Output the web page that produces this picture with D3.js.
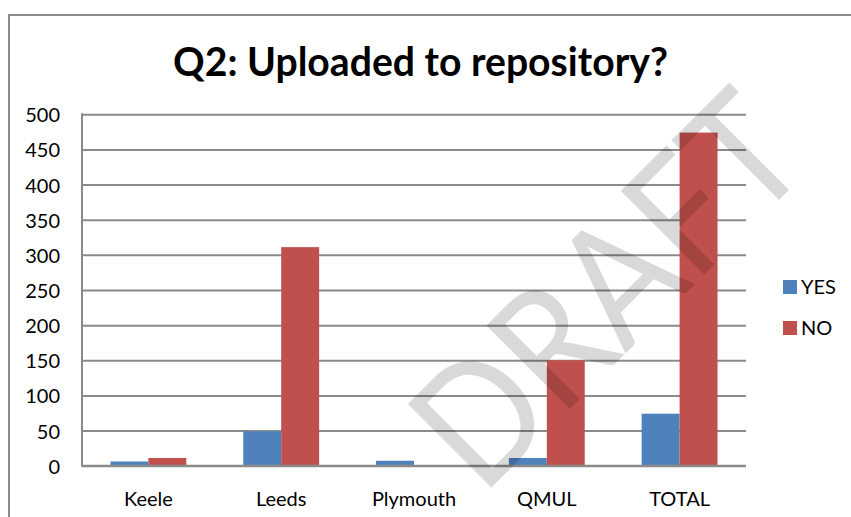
<!DOCTYPE html>
<html>
<head>
<meta charset="utf-8">
<script src="https://cdn.jsdelivr.net/npm/d3@7"></script>
<style>
  body { margin: 0; background: #fff; }
  svg { display: block; }
</style>
</head>
<body>
<div id="chart"></div>
<script>
let categories = ["Keele", "Leeds", "Plymouth", "QMUL", "TOTAL"];
let seriesNames = ["YES", "NO"];
let yesValues = [6, 49, 7, 11, 74];
let noValues = [11, 311, 0, 150, 474];
let yTicks = [0, 50, 100, 150, 200, 250, 300, 350, 400, 450, 500];
let seriesColors = ["#4F81BD", "#C0504D"];

let width = 851, height = 517;
let margin = {top: 114.3, right: 105, bottom: 51.3, left: 82};
let font = "Lato, 'Open Sans', sans-serif";

let svg = d3.select("#chart").append("svg")
    .attr("width", width).attr("height", height);

// outer chart border (right and bottom edges run off the picture)
svg.append("rect")
    .attr("x", 9).attr("y", 15).attr("width", 900).attr("height", 600)
    .attr("fill", "#fff").attr("stroke", "#8a8a8a").attr("stroke-width", 2);

let xScale = d3.scaleBand().domain(categories).range([margin.left, width - margin.right]);
let subScale = d3.scaleBand().domain(seriesNames).range([0, xScale.bandwidth()]).paddingOuter(0.75);
let yScale = d3.scaleLinear().domain([0, 500]).range([height - margin.bottom, margin.top]);

// gridlines
let grid = svg.append("g").attr("transform", "translate(" + margin.left + ",0)")
    .call(d3.axisLeft(yScale).tickValues(yTicks).tickSize(-(width - margin.right - margin.left)).tickFormat(""));
grid.select(".domain").remove();
grid.selectAll("line").attr("stroke", "#8a8a8a").attr("stroke-width", 2);

// y tick labels
svg.append("g").selectAll("text").data(yTicks).enter().append("text")
    .attr("x", 60).attr("y", d => yScale(d) + 8)
    .attr("text-anchor", "end")
    .style("font-family", font).style("font-size", "20px").attr("fill", "#000")
    .text(d => d);

// axis lines
svg.append("line").attr("x1", margin.left).attr("x2", margin.left)
    .attr("y1", yScale(500) - 1).attr("y2", yScale(0) + 1)
    .attr("stroke", "#8a8a8a").attr("stroke-width", 2);

// bars
let rows = categories.map((c, i) => ({key: c, values: [yesValues[i], noValues[i]]}));
let groups = svg.selectAll(".bar").data(rows).enter().append("g")
    .attr("class", "bar").attr("transform", d => "translate(" + xScale(d.key) + ",0)");
groups.selectAll("rect").data(d => d.values.map((v, j) => ({name: seriesNames[j], value: v, color: seriesColors[j]})))
    .enter().append("rect")
    .attr("x", d => subScale(d.name))
    .attr("width", subScale.bandwidth())
    .attr("y", d => yScale(d.value))
    .attr("height", d => yScale(0) - yScale(d.value))
    .attr("fill", d => d.color);

svg.append("line").attr("x1", margin.left).attr("x2", width - margin.right)
    .attr("y1", yScale(0)).attr("y2", yScale(0))
    .attr("stroke", "#8a8a8a").attr("stroke-width", 2);

// category labels
svg.append("g").selectAll("text").data(categories).enter().append("text")
    .attr("x", d => xScale(d) + xScale.bandwidth() / 2).attr("y", 506)
    .attr("text-anchor", "middle")
    .style("font-family", font).style("font-size", "20px").attr("fill", "#000")
    .text(d => d);

// title
let title = svg.append("text")
    .attr("x", 420.5).attr("y", 75.5).attr("text-anchor", "middle")
    .style("font-family", font).style("font-weight", "bold").style("font-size", "36px")
    .text("Q2: Uploaded to repository?");
let tw = title.node().getComputedTextLength();
title.style("font-size", (36 * 495 / tw) + "px");

// legend
let legend = svg.append("g").selectAll("g").data(seriesNames).enter().append("g")
    .attr("transform", (d, i) => "translate(783," + (280 + i * 41) + ")");
legend.append("rect").attr("width", 14).attr("height", 14).attr("fill", (d, i) => seriesColors[i]);
legend.append("text").attr("x", 18).attr("y", 14)
    .style("font-family", font).style("font-size", "20px").text(d => d);

// DRAFT watermark
svg.append("text")
    .attr("transform", "translate(482,497) rotate(-45)")
    .attr("text-anchor", "start")
    .style("font-family", font).style("font-weight", 400).style("font-size", "165px")
    .attr("textLength", 470).attr("lengthAdjust", "spacingAndGlyphs")
    .attr("fill", "#000").attr("fill-opacity", 0.15)
    .text("DRAFT");
</script>
</body>
</html>
